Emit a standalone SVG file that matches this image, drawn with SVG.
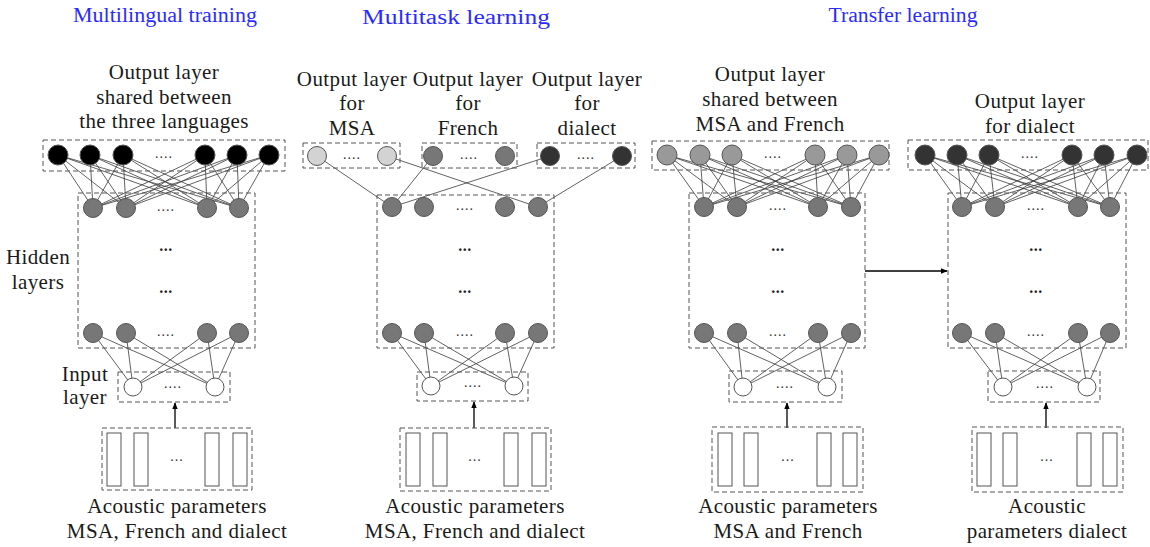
<svg xmlns="http://www.w3.org/2000/svg" width="1150" height="547" viewBox="0 0 1150 547">
<defs>
<style>
.box{fill:none;stroke:#555;stroke-width:1;stroke-dasharray:5 3}
.bar{fill:#fff;stroke:#555;stroke-width:1}
.n{stroke:#555;stroke-width:1}
.blk{fill:#000}
.hid{fill:#777}
.lt{fill:#d3d3d3}
.mid{fill:#999}
.dk{fill:#333}
.in{fill:#fff}
.lk{fill:none;stroke:#3a3a3a;stroke-width:0.8}
.ar{fill:none;stroke:#000;stroke-width:1.3}
text{font-family:'Liberation Serif','DejaVu Serif','Times New Roman',serif}
.t{font-size:21px;fill:#1a1a1a;text-anchor:middle;letter-spacing:0.4px}
.ti{font-size:20px;fill:#2b2bff;text-anchor:middle}
.d{font-size:14px;fill:#333;text-anchor:middle;letter-spacing:1px}
.d3{font-size:16px;font-weight:bold;fill:#222;text-anchor:middle;letter-spacing:0.5px}
</style>
<marker id="ah" viewBox="0 0 10 10" refX="9" refY="5" markerWidth="7" markerHeight="7" orient="auto-start-reverse" markerUnits="userSpaceOnUse">
<path d="M0,1 L10,5 L0,9 Z" fill="#000"/>
</marker>
</defs>
<rect width="1150" height="547" fill="#fff"/>

<g id="titles" font-family="Liberation Serif, DejaVu Serif, serif">
<text class="ti" x="165" y="22" textLength="184" lengthAdjust="spacingAndGlyphs">Multilingual training</text>
<text class="ti" x="456" y="24" textLength="188" lengthAdjust="spacingAndGlyphs">Multitask learning</text>
<text class="ti" x="903" y="22" textLength="149" lengthAdjust="spacingAndGlyphs">Transfer learning</text>
</g>

<g id="connectors">
<path class="lk" d="M58 155L93 208M58 155L126 208M58 155L207 208M58 155L239 208M90 155L93 208M90 155L126 208M90 155L207 208M90 155L239 208M123 155L93 208M123 155L126 208M123 155L207 208M123 155L239 208M205 155L93 208M205 155L126 208M205 155L207 208M205 155L239 208M237 155L93 208M237 155L126 208M237 155L207 208M237 155L239 208M269 155L93 208M269 155L126 208M269 155L207 208M269 155L239 208"/>
<path class="lk" d="M93 333L133 387M93 333L215 387M126 333L133 387M126 333L215 387M207 333L133 387M207 333L215 387M239 333L133 387M239 333L215 387"/>
<path class="lk" d="M317 156L392 207M387 156L538 207M433 156L392 207M550 156L392 207M622 156L538 207"/>
<path class="lk" d="M392 333L431 386M392 333L514 386M424 333L431 386M424 333L514 386M505 333L431 386M505 333L514 386M538 333L431 386M538 333L514 386"/>
<path class="lk" d="M667 155L704 207M667 155L737 207M667 155L818 207M667 155L851 207M700 155L704 207M700 155L737 207M700 155L818 207M700 155L851 207M732 155L704 207M732 155L737 207M732 155L818 207M732 155L851 207M815 155L704 207M815 155L737 207M815 155L818 207M815 155L851 207M847 155L704 207M847 155L737 207M847 155L818 207M847 155L851 207M879 155L704 207M879 155L737 207M879 155L818 207M879 155L851 207"/>
<path class="lk" d="M704 333L743 387M704 333L827 387M737 333L743 387M737 333L827 387M818 333L743 387M818 333L827 387M851 333L743 387M851 333L827 387"/>
<path class="lk" d="M925 155L962 207M925 155L995 207M925 155L1078 207M925 155L1110 207M957 155L962 207M957 155L995 207M957 155L1078 207M957 155L1110 207M989 155L962 207M989 155L995 207M989 155L1078 207M989 155L1110 207M1072 155L962 207M1072 155L995 207M1072 155L1078 207M1072 155L1110 207M1104 155L962 207M1104 155L995 207M1104 155L1078 207M1104 155L1110 207M1137 155L962 207M1137 155L995 207M1137 155L1078 207M1137 155L1110 207"/>
<path class="lk" d="M962 333L1003 387M962 333L1087 387M995 333L1003 387M995 333L1087 387M1078 333L1003 387M1078 333L1087 387M1110 333L1003 387M1110 333L1087 387"/>
<line class="ar" x1="175" y1="428" x2="175" y2="403" marker-end="url(#ah)"/>
<line class="ar" x1="474" y1="428" x2="474" y2="402" marker-end="url(#ah)"/>
<line class="ar" x1="787" y1="428" x2="787" y2="403" marker-end="url(#ah)"/>
<line class="ar" x1="1046" y1="428" x2="1046" y2="403" marker-end="url(#ah)"/>
<line class="ar" x1="865" y1="271" x2="947" y2="271" marker-end="url(#ah)"/>
</g>

<g id="p1-output">
<rect class="box" x="43" y="140" width="242" height="31"/>
<circle class="n blk" cx="58" cy="155" r="10"/><circle class="n blk" cx="90" cy="155" r="10"/><circle class="n blk" cx="123" cy="155" r="10"/>
<circle class="n blk" cx="205" cy="155" r="10"/><circle class="n blk" cx="237" cy="155" r="10"/><circle class="n blk" cx="269" cy="155" r="10"/>
<text class="d" x="164" y="158">....</text>
<text class="t" x="164" y="79">Output layer</text>
<text class="t" x="164" y="104">shared between</text>
<text class="t" x="164" y="128">the three languages</text>
</g>
<g id="p1-hidden">
<rect class="box" x="78" y="193" width="177" height="155"/>
<circle class="n hid" cx="93" cy="208" r="9.5"/><circle class="n hid" cx="126" cy="208" r="9.5"/><circle class="n hid" cx="207" cy="208" r="9.5"/><circle class="n hid" cx="239" cy="208" r="9.5"/>
<text class="d" x="166" y="211">....</text>
<text class="d3" x="166" y="251">...</text>
<text class="d3" x="166" y="293">...</text>
<circle class="n hid" cx="93" cy="333" r="9.5"/><circle class="n hid" cx="126" cy="333" r="9.5"/><circle class="n hid" cx="207" cy="333" r="9.5"/><circle class="n hid" cx="239" cy="333" r="9.5"/>
<text class="d" x="166" y="336">....</text>
<text class="t" x="38" y="264">Hidden</text>
<text class="t" x="38" y="289">layers</text>
</g>
<g id="p1-input">
<rect class="box" x="118" y="372" width="112" height="30"/>
<circle class="n in" cx="133" cy="387" r="9"/><circle class="n in" cx="215" cy="387" r="9"/>
<text class="d" x="173" y="388">....</text>
<text class="t" x="85" y="381">Input</text>
<text class="t" x="85" y="404">layer</text>
</g>
<g id="p1-acoustic">
<rect class="box" x="102" y="428" width="150" height="62"/>
<rect class="bar" x="107" y="433" width="14" height="53"/><rect class="bar" x="134" y="433" width="14" height="53"/>
<rect class="bar" x="205" y="433" width="14" height="53"/><rect class="bar" x="233" y="433" width="14" height="53"/>
<text class="d" x="177" y="461">...</text>
<text class="t" x="177" y="513">Acoustic parameters</text>
<text class="t" x="177" y="538">MSA, French and dialect</text>
</g>

<g id="p2-output-msa">
<rect class="box" x="303" y="143" width="97" height="25"/>
<circle class="n lt" cx="317" cy="156" r="9.5"/><circle class="n lt" cx="387" cy="156" r="9.5"/>
<text class="d" x="352" y="159">....</text>
<text class="t" x="352" y="86">Output layer</text>
<text class="t" x="352" y="110">for</text>
<text class="t" x="352" y="135">MSA</text>
</g>
<g id="p2-output-french">
<rect class="box" x="422" y="143" width="95" height="25"/>
<circle class="n hid" cx="433" cy="156" r="9.5"/><circle class="n hid" cx="505" cy="156" r="9.5"/>
<text class="d" x="469" y="159">....</text>
<text class="t" x="468" y="86">Output layer</text>
<text class="t" x="468" y="110">for</text>
<text class="t" x="468" y="135">French</text>
</g>
<g id="p2-output-dialect">
<rect class="box" x="537" y="143" width="98" height="25"/>
<circle class="n dk" cx="550" cy="156" r="9.5"/><circle class="n dk" cx="622" cy="156" r="9.5"/>
<text class="d" x="586" y="159">....</text>
<text class="t" x="587" y="86">Output layer</text>
<text class="t" x="587" y="110">for</text>
<text class="t" x="587" y="135">dialect</text>
</g>
<g id="p2-hidden">
<rect class="box" x="377" y="195" width="177" height="153"/>
<circle class="n hid" cx="392" cy="207" r="9.5"/><circle class="n hid" cx="424" cy="207" r="9.5"/><circle class="n hid" cx="505" cy="207" r="9.5"/><circle class="n hid" cx="538" cy="207" r="9.5"/>
<text class="d" x="465" y="210">....</text>
<text class="d3" x="465" y="251">...</text>
<text class="d3" x="465" y="293">...</text>
<circle class="n hid" cx="392" cy="333" r="9.5"/><circle class="n hid" cx="424" cy="333" r="9.5"/><circle class="n hid" cx="505" cy="333" r="9.5"/><circle class="n hid" cx="538" cy="333" r="9.5"/>
<text class="d" x="465" y="336">....</text>
</g>
<g id="p2-input">
<rect class="box" x="417" y="372" width="111" height="29"/>
<circle class="n in" cx="431" cy="386" r="9"/><circle class="n in" cx="514" cy="386" r="9"/>
<text class="d" x="473" y="387">....</text>
</g>
<g id="p2-acoustic">
<rect class="box" x="400" y="428" width="151" height="63"/>
<rect class="bar" x="406" y="433" width="14" height="53"/><rect class="bar" x="433" y="433" width="14" height="53"/>
<rect class="bar" x="504" y="433" width="14" height="53"/><rect class="bar" x="532" y="433" width="14" height="53"/>
<text class="d" x="475" y="461">...</text>
<text class="t" x="475" y="513">Acoustic parameters</text>
<text class="t" x="475" y="538">MSA, French and dialect</text>
</g>

<g id="p3-output">
<rect class="box" x="652" y="141" width="237" height="29"/>
<circle class="n mid" cx="667" cy="155" r="10"/><circle class="n mid" cx="700" cy="155" r="10"/><circle class="n mid" cx="732" cy="155" r="10"/>
<circle class="n mid" cx="815" cy="155" r="10"/><circle class="n mid" cx="847" cy="155" r="10"/><circle class="n mid" cx="879" cy="155" r="10"/>
<text class="d" x="773" y="158">....</text>
<text class="t" x="770" y="81">Output layer</text>
<text class="t" x="770" y="106">shared between</text>
<text class="t" x="770" y="131">MSA and French</text>
</g>
<g id="p3-hidden">
<rect class="box" x="689" y="193" width="176" height="155"/>
<circle class="n hid" cx="704" cy="207" r="9.5"/><circle class="n hid" cx="737" cy="207" r="9.5"/><circle class="n hid" cx="818" cy="207" r="9.5"/><circle class="n hid" cx="851" cy="207" r="9.5"/>
<text class="d" x="778" y="210">....</text>
<text class="d3" x="778" y="251">...</text>
<text class="d3" x="778" y="293">...</text>
<circle class="n hid" cx="704" cy="333" r="9.5"/><circle class="n hid" cx="737" cy="333" r="9.5"/><circle class="n hid" cx="818" cy="333" r="9.5"/><circle class="n hid" cx="851" cy="333" r="9.5"/>
<text class="d" x="778" y="336">....</text>
</g>
<g id="p3-input">
<rect class="box" x="729" y="371" width="113" height="31"/>
<circle class="n in" cx="743" cy="387" r="9"/><circle class="n in" cx="827" cy="387" r="9"/>
<text class="d" x="785" y="388">....</text>
</g>
<g id="p3-acoustic">
<rect class="box" x="712" y="427" width="151" height="65"/>
<rect class="bar" x="718" y="433" width="14" height="53"/><rect class="bar" x="744" y="433" width="14" height="53"/>
<rect class="bar" x="817" y="433" width="14" height="53"/><rect class="bar" x="843" y="433" width="14" height="53"/>
<text class="d" x="788" y="461">...</text>
<text class="t" x="788" y="513">Acoustic parameters</text>
<text class="t" x="788" y="538">MSA and French</text>
</g>

<g id="p4-output">
<rect class="box" x="908" y="140" width="240" height="30"/>
<circle class="n dk" cx="925" cy="155" r="10"/><circle class="n dk" cx="957" cy="155" r="10"/><circle class="n dk" cx="989" cy="155" r="10"/>
<circle class="n dk" cx="1072" cy="155" r="10"/><circle class="n dk" cx="1104" cy="155" r="10"/><circle class="n dk" cx="1137" cy="155" r="10"/>
<text class="d" x="1030" y="158">....</text>
<text class="t" x="1030" y="108">Output layer</text>
<text class="t" x="1030" y="133">for dialect</text>
</g>
<g id="p4-hidden">
<rect class="box" x="948" y="193" width="178" height="155"/>
<circle class="n hid" cx="962" cy="207" r="9.5"/><circle class="n hid" cx="995" cy="207" r="9.5"/><circle class="n hid" cx="1078" cy="207" r="9.5"/><circle class="n hid" cx="1110" cy="207" r="9.5"/>
<text class="d" x="1036" y="210">....</text>
<text class="d3" x="1036" y="251">...</text>
<text class="d3" x="1036" y="293">...</text>
<circle class="n hid" cx="962" cy="333" r="9.5"/><circle class="n hid" cx="995" cy="333" r="9.5"/><circle class="n hid" cx="1078" cy="333" r="9.5"/><circle class="n hid" cx="1110" cy="333" r="9.5"/>
<text class="d" x="1036" y="336">....</text>
</g>
<g id="p4-input">
<rect class="box" x="988" y="371" width="112" height="31"/>
<circle class="n in" cx="1003" cy="387" r="9"/><circle class="n in" cx="1087" cy="387" r="9"/>
<text class="d" x="1045" y="388">....</text>
</g>
<g id="p4-acoustic">
<rect class="box" x="972" y="427" width="151" height="65"/>
<rect class="bar" x="977" y="433" width="14" height="53"/><rect class="bar" x="1003" y="433" width="14" height="53"/>
<rect class="bar" x="1077" y="433" width="14" height="53"/><rect class="bar" x="1103" y="433" width="14" height="53"/>
<text class="d" x="1047" y="461">...</text>
<text class="t" x="1047" y="513">Acoustic</text>
<text class="t" x="1047" y="538">parameters dialect</text>
</g>
</svg>
